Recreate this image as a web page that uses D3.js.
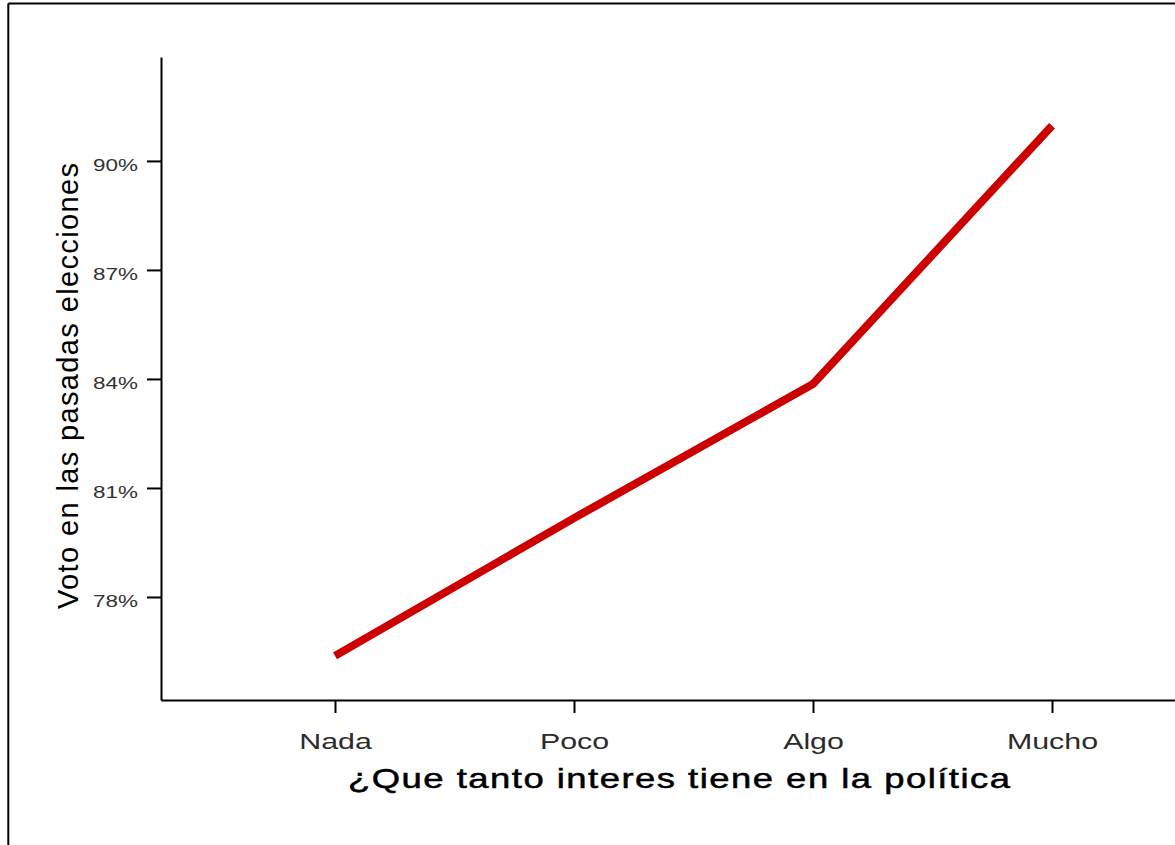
<!DOCTYPE html>
<html>
<head>
<meta charset="utf-8">
<script src="https://cdn.jsdelivr.net/npm/d3@7/dist/d3.min.js"></script>
<style>
  html, body { margin: 0; padding: 0; background: #fff; }
  svg { display: block; }
</style>
</head>
<body>
<svg id="chart" width="1175" height="845"></svg>
<script>
// ---- data ----
const categories = ["Nada", "Poco", "Algo", "Mucho"];
const votePct = [76.38, 80.17, 83.86, 90.97];
const yTickValues = [78, 81, 84, 87, 90];
const xTitle = "¿Que tanto interes tiene en la política";
const yTitle = "Voto en las pasadas elecciones";

const W = 1175, H = 845;
const svg = d3.select("#chart");
svg.append("rect").attr("width", W).attr("height", H).attr("fill", "#fff");

// outer frame (top and left edges visible)
svg.append("line").attr("x1", 8.3).attr("x2", W).attr("y1", 3.5).attr("y2", 3.5)
  .attr("stroke", "#000").attr("stroke-width", 2);
svg.append("line").attr("x1", 8.3).attr("x2", 8.3).attr("y1", 3.5).attr("y2", H)
  .attr("stroke", "#000").attr("stroke-width", 2);

const axisX0 = 161, axisY0 = 700, axisTop = 57;

const x = d3.scalePoint().domain(categories).range([axisX0, 1226]).padding(0.728);
const y = d3.scaleLinear().domain([75.165, 92.86]).range([axisY0, axisTop]);

// y axis
const gy = svg.append("g").attr("transform", `translate(${axisX0},0)`)
  .call(d3.axisLeft(y).tickValues(yTickValues).tickFormat(d => d + "%").tickSize(14).tickSizeOuter(0));
gy.select(".domain").attr("stroke", "#000").attr("stroke-width", 2);
gy.selectAll(".tick line").attr("stroke", "#000").attr("stroke-width", 2);
gy.selectAll(".tick text")
  .attr("x", 0).attr("dy", 0)
  .attr("transform", "translate(-23,10) scale(1.32,1)")
  .attr("text-anchor", "end")
  .attr("fill", "#333")
  .style("font-family", "'Liberation Sans', Arial, sans-serif")
  .style("font-size", "17px");

// x axis
const gx = svg.append("g").attr("transform", `translate(0,${axisY0})`)
  .call(d3.axisBottom(x).tickSize(13).tickSizeOuter(0));
gx.select(".domain").attr("stroke", "#000").attr("stroke-width", 2);
gx.selectAll(".tick line").attr("stroke", "#000").attr("stroke-width", 2);
gx.selectAll(".tick text")
  .attr("y", 0).attr("dy", 0)
  .attr("transform", "translate(0,49) scale(1.38,1)")
  .attr("text-anchor", "middle")
  .attr("fill", "#2b2b2b")
  .style("font-family", "'Liberation Sans', Arial, sans-serif")
  .style("font-size", "22px");

// line
const pts = categories.map((c, i) => [x(c), y(votePct[i])]);
svg.append("path")
  .attr("d", d3.line()(pts))
  .attr("fill", "none")
  .attr("stroke", "#cc0000")
  .attr("stroke-width", 8)
  .attr("stroke-linecap", "butt")
  .attr("stroke-linejoin", "round");

// x title
svg.append("text")
  .attr("transform", "translate(679,788) scale(1.35,1)")
  .attr("text-anchor", "middle")
  .attr("textLength", 662 / 1.35)
  .attr("lengthAdjust", "spacing")
  .attr("fill", "#000")
  .attr("stroke", "#000")
  .attr("stroke-width", 0.5)
  .style("font-family", "'Liberation Sans', Arial, sans-serif")
  .style("font-size", "27px")
  .text(xTitle);

// y title
svg.append("text")
  .attr("transform", "translate(78,386) rotate(-90)")
  .attr("text-anchor", "middle")
  .attr("textLength", 446)
  .attr("lengthAdjust", "spacing")
  .attr("fill", "#000")
  .style("font-family", "'Liberation Sans', Arial, sans-serif")
  .style("font-size", "29px")
  .text(yTitle);
</script>
</body>
</html>
